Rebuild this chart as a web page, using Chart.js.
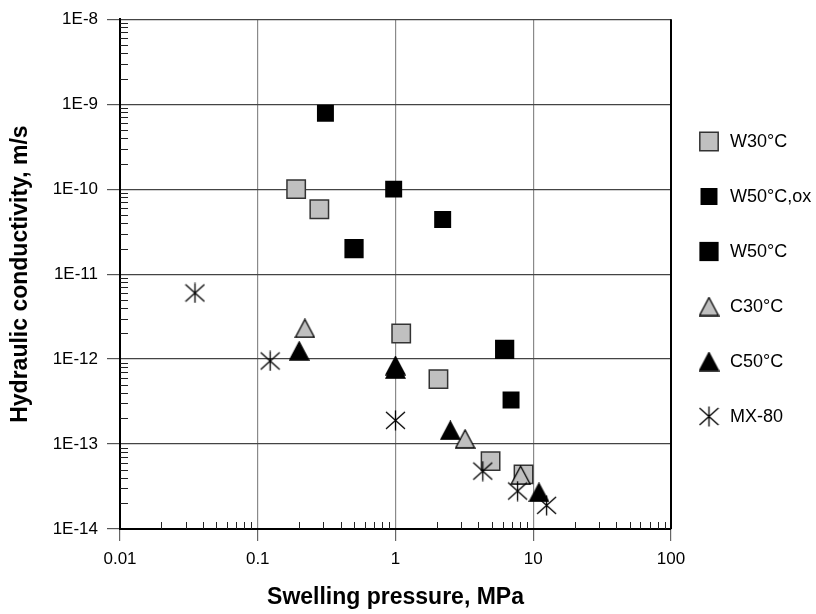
<!DOCTYPE html>
<html>
<head>
<meta charset="utf-8">
<script src="https://cdn.jsdelivr.net/npm/chart.js@4.4.1/dist/chart.umd.min.js"></script>
<style>
  html, body { margin: 0; padding: 0; background: #fff; }
</style>
</head>
<body>
<canvas id="chart" width="816" height="614"></canvas>
<script>
// 축 눈금
const xTicks = [0.01, 0.1, 1, 10, 100];
const xTickLabels = ['0.01', '0.1', '1', '10', '100'];
const yTicks = [1e-14, 1e-13, 1e-12, 1e-11, 1e-10, 1e-9, 1e-8];
const yTickLabels = ['1E-14', '1E-13', '1E-12', '1E-11', '1E-10', '1E-9', '1E-8'];
const minorSteps = [2, 3, 4, 5, 6, 7, 8, 9];

// 시리즈 (팽윤압 MPa, 수리전도도 m/s)
const seriesNames = ['W30°C', 'W50°C,ox', 'W50°C', 'C30°C', 'C50°C', 'MX-80'];
const w30X = [0.19, 0.28, 1.1, 2.05, 4.9, 8.5];
const w30Y = [1.0e-10, 5.8e-11, 2.0e-12, 5.8e-13, 6.3e-14, 4.4e-14];
const w50oxX = [0.31, 0.97, 2.2, 6.9];
const w50oxY = [7.8e-10, 1.0e-10, 4.4e-11, 3.3e-13];
const w50X = [0.5, 6.2];
const w50Y = [2.0e-11, 1.3e-12];
const c30X = [0.22, 3.2, 8.1];
const c30Y = [2.3e-12, 1.15e-13, 4.3e-14];
const c50X = [0.2, 1.0, 1.0, 2.5, 11];
const c50Y = [1.25e-12, 8.4e-13, 7.6e-13, 1.45e-13, 2.7e-14];
const mx80X = [0.035, 0.123, 1.0, 4.3, 7.7, 12.5];
const mx80Y = [6.0e-12, 9.5e-13, 1.9e-13, 4.8e-14, 2.8e-14, 1.9e-14];

const FONT = "'Liberation Sans', Arial, sans-serif";

function toPoints(xs, ys) {
    return xs.map((x, i) => ({ x: x, y: ys[i] }));
}

// 삼각형 마커 (가운데 정렬)
function makeTriangle(fill) {
    const c = document.createElement('canvas');
    c.width = 21; c.height = 20;
    const g = c.getContext('2d');
    g.beginPath();
    g.moveTo(10.5, 1);
    g.lineTo(20, 19);
    g.lineTo(1, 19);
    g.closePath();
    g.fillStyle = fill;
    g.fill();
    g.lineWidth = 1.3;
    g.strokeStyle = '#000';
    g.stroke();
    return c;
}

// 별표 마커 (X + 세로선)
function makeStar() {
    const c = document.createElement('canvas');
    c.width = 21; c.height = 21;
    const g = c.getContext('2d');
    g.lineWidth = 1.3;
    g.strokeStyle = '#000';
    g.beginPath();
    g.moveTo(1, 2); g.lineTo(20, 19);
    g.moveTo(1, 19); g.lineTo(20, 2);
    g.moveTo(10.5, 0.5); g.lineTo(10.5, 20.5);
    g.stroke();
    return c;
}

const grayTri = makeTriangle('#c0c0c0');
const blackTri = makeTriangle('#000');
const star = makeStar();

const datasets = [
    { label: seriesNames[0], data: toPoints(w30X, w30Y), pointStyle: 'rect', pointRadius: 13,
      backgroundColor: '#c0c0c0', borderColor: '#333', borderWidth: 1.5, order: 5 },
    { label: seriesNames[1], data: toPoints(w50oxX, w50oxY), pointStyle: 'rect', pointRadius: 12,
      backgroundColor: '#000', borderColor: '#000', borderWidth: 0, order: 4 },
    { label: seriesNames[2], data: toPoints(w50X, w50Y), pointStyle: 'rect', pointRadius: 13.6,
      backgroundColor: '#000', borderColor: '#000', borderWidth: 0, order: 3 },
    { label: seriesNames[3], data: toPoints(c30X, c30Y), pointStyle: grayTri, pointRadius: 10, order: 2 },
    { label: seriesNames[4], data: toPoints(c50X, c50Y), pointStyle: blackTri, pointRadius: 10, order: 1 },
    { label: seriesNames[5], data: toPoints(mx80X, mx80Y), pointStyle: star, pointRadius: 10, order: 0 }
];

// 보조 눈금, 오른쪽 테두리, 범례
const extras = {
    id: 'extras',
    beforeDatasetsDraw: chart => {
        const ctx = chart.ctx;
        const xs = chart.scales.x, ys = chart.scales.y;
        const area = chart.chartArea;
        ctx.save();
        ctx.strokeStyle = '#222';
        ctx.lineWidth = 1;
        ctx.beginPath();
        xTicks.slice(0, -1).forEach(d => {
            minorSteps.forEach(m => {
                const px = Math.round(xs.getPixelForValue(m * d)) + 0.5;
                ctx.moveTo(px, area.bottom);
                ctx.lineTo(px, area.bottom - 7);
            });
        });
        yTicks.slice(0, -1).forEach(d => {
            minorSteps.forEach(m => {
                const py = Math.round(ys.getPixelForValue(m * d)) + 0.5;
                ctx.moveTo(area.left, py);
                ctx.lineTo(area.left + 8, py);
            });
        });
        ctx.stroke();
        ctx.lineWidth = 2;
        ctx.strokeStyle = '#000';
        ctx.beginPath();
        ctx.moveTo(area.right, area.top);
        ctx.lineTo(area.right, area.bottom);
        ctx.stroke();
        ctx.restore();
    },
    afterDraw: chart => {
        const ctx = chart.ctx;
        ctx.save();
        ctx.font = '18px ' + FONT;
        ctx.textBaseline = 'middle';
        ctx.textAlign = 'left';
        chart.data.datasets.forEach((ds, i) => {
            const y = 141.5 + i * 55;
            const x = 709;
            ctx.fillStyle = ds.backgroundColor || '#000';
            ctx.strokeStyle = ds.borderColor || '#000';
            ctx.lineWidth = ds.borderWidth || 0;
            Chart.helpers.drawPoint(ctx, {
                pointStyle: ds.pointStyle, radius: ds.pointRadius,
                borderWidth: ds.borderWidth || 0, rotation: 0
            }, x, y);
            ctx.fillStyle = '#000';
            ctx.fillText(ds.label, 730, y + 1);
        });
        ctx.restore();
    }
};

const ctx = document.getElementById('chart').getContext('2d');
new Chart(ctx, {
    type: 'scatter',
    data: { datasets: datasets },
    options: {
        responsive: false,
        animation: false,
        layout: { padding: { top: 15, right: 145, bottom: 0, left: 0 } },
        plugins: {
            legend: { display: false },
            tooltip: { enabled: false }
        },
        scales: {
            x: {
                type: 'logarithmic',
                min: 0.01,
                max: 100,
                afterBuildTicks: s => { s.ticks = xTicks.map(v => ({ value: v })); },
                afterFit: s => { s.height = 85; },
                ticks: {
                    autoSkip: false,
                    maxRotation: 0,
                    padding: 8,
                    color: '#000',
                    font: { size: 17, family: FONT },
                    callback: (v, i) => xTickLabels[i]
                },
                grid: { color: '#8a8a8a', lineWidth: 1.2, tickLength: 12, tickColor: '#666' },
                border: { color: '#000', width: 2 },
                title: {
                    display: true,
                    text: 'Swelling pressure, MPa',
                    color: '#000',
                    font: { size: 23, weight: 'bold', family: FONT },
                    padding: { top: 0, bottom: 3 }
                }
            },
            y: {
                type: 'logarithmic',
                min: 1e-14,
                max: 1e-8,
                afterBuildTicks: s => { s.ticks = yTicks.map(v => ({ value: v })); },
                afterFit: s => { s.width = 120; },
                ticks: {
                    autoSkip: false,
                    padding: 9,
                    color: '#000',
                    font: { size: 17, family: FONT },
                    callback: (v, i) => yTickLabels[i]
                },
                grid: { color: '#444', lineWidth: 1.2, tickLength: 13, tickColor: '#555' },
                border: { color: '#000', width: 2 },
                title: {
                    display: true,
                    text: 'Hydraulic conductivity, m/s',
                    color: '#000',
                    font: { size: 23, weight: 'bold', family: FONT },
                    padding: { top: 7, bottom: 0 }
                }
            }
        }
    },
    plugins: [extras]
});
</script>
</body>
</html>
